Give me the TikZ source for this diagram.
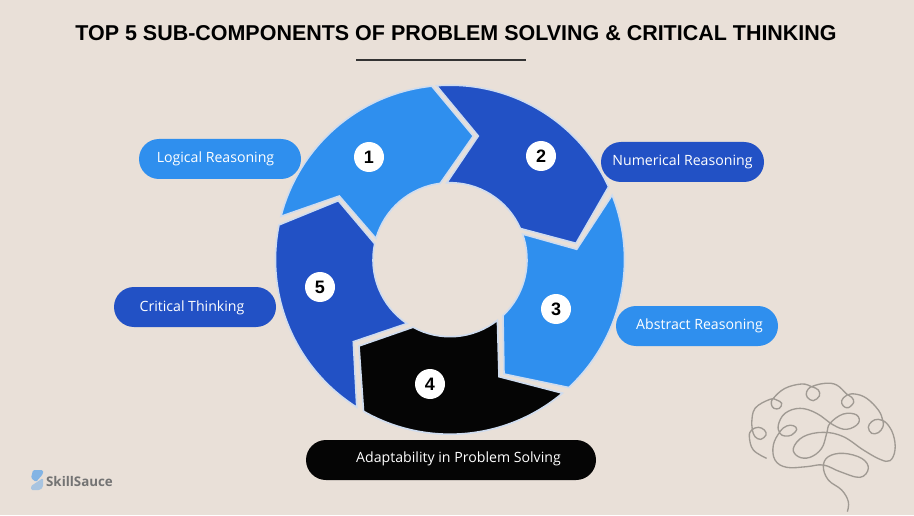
\documentclass[tikz,border=0pt]{standalone}
\usepackage{fontspec}
\setmainfont{Open Sans}
\newfontfamily\titlefont{Liberation Sans}
\usepackage{tikz}

\definecolor{paper}{HTML}{E9E0D8}
\definecolor{skyseg}{HTML}{2F8FEE}
\definecolor{royalseg}{HTML}{2251C5}
\definecolor{blackseg}{HTML}{050505}
\definecolor{segedge}{HTML}{CFDCEF}
\definecolor{brainline}{HTML}{A09A93}

\tikzset{
  seg/.style={draw=segedge, line width=1.2pt, line join=miter},
  numdot/.style={circle, fill=white, minimum size=22.5pt, inner sep=0pt, font=\titlefont\bfseries\fontsize{13.5}{15}\selectfont},
  pill/.style={rounded corners=15pt, minimum height=30pt, inner sep=0pt},
  pilltext/.style={text=white, font=\fontsize{10.6}{12}\selectfont, inner sep=0pt}
}

\begin{document}
\begin{tikzpicture}[x=0.75pt,y=0.75pt]

  \useasboundingbox (0,0) rectangle (914,515);
  \fill[paper] (0,0) rectangle (914,515);

  \coordinate (mid) at (450,255.3);

  % title
  \node[inner sep=0pt, font=\titlefont\bfseries\fontsize{16.1}{18}\selectfont] (heading) at (456,482) {TOP 5 SUB-COMPONENTS OF PROBLEM SOLVING \& CRITICAL THINKING};
  \coordinate (ruleL) at (356,455);
  \coordinate (ruleR) at (526,455);
  \draw[line width=0.8pt, black!80] (ruleL) -- (ruleR);

  % ring
  \fill[seg, fill=skyseg] (mid) ++(165.6:174.5) arc[start angle=165.6, end angle=96, radius=174.5]
    -- (473.3,379) -- ([shift={(97.3:77)}]mid) arc[start angle=97.3, end angle=164, radius=77]
    -- (339.3,319) -- cycle;
  \fill[seg, fill=royalseg] (mid) ++(94.4:174.5) arc[start angle=94.4, end angle=24.7, radius=174.5]
    -- (576,271.7) -- ([shift={(23.9:77)}]mid) arc[start angle=23.9, end angle=92.4, radius=77]
    -- (478.3,379) -- cycle;
  \fill[seg, fill=skyseg] (mid) ++(21.7:174.5) arc[start angle=21.7, end angle=-47.1, radius=174.5]
    -- (504,141) -- ([shift={(-46.5:77)}]mid) arc[start angle=-46.5, end angle=19.4, radius=77]
    -- (576.7,265.7) -- cycle;
  \fill[seg, fill=blackseg] (mid) ++(-49.9:174.5) arc[start angle=-49.9, end angle=-119.7, radius=174.5]
    -- (359,169) -- ([shift={(-118.7:77)}]mid) arc[start angle=-118.7, end angle=-52, radius=77]
    -- (499,138.3) -- cycle;
  \fill[seg, fill=royalseg] (mid) ++(237.7:174.5) arc[start angle=237.7, end angle=168.5, radius=174.5]
    -- (338.3,314.3) -- ([shift={(168:77)}]mid) arc[start angle=168, end angle=236, radius=77]
    -- (353.3,173.3) -- cycle;

  % numbers
  \node[numdot] (one) at (369,358) {1};
  \node[numdot] (two) at (541,359) {2};
  \node[numdot] (three) at (556,206) {3};
  \node[numdot] (four) at (430,131) {4};
  \node[numdot] (five) at (320,228) {5};

  % labels
  \node[pill, fill=skyseg, minimum width=121.5pt] (logical) at (220,356) {};
  \node[pilltext] (logicaltext) at (215.5,356) {Logical Reasoning};
  \node[pill, fill=royalseg, minimum width=122.25pt] (numerical) at (682.5,353) {};
  \node[pilltext] (numericaltext) at (682.5,353) {Numerical Reasoning};
  \node[pill, fill=skyseg, minimum width=121.5pt] (abstract) at (697,189) {};
  \node[pilltext] (abstracttext) at (699.5,189) {Abstract Reasoning};
  \node[pill, fill=royalseg, minimum width=121.5pt] (critical) at (195,208) {};
  \node[pilltext] (criticaltext) at (192,207) {Critical Thinking};
  \node[pill, fill=blackseg, minimum width=217.5pt] (adapt) at (451,55) {};
  \node[pilltext] (adapttext) at (458.5,56) {Adaptability in Problem Solving};

  % logo
  \fill[skyseg!55!paper, rounded corners=1pt] (33,45) -- (43,45) -- (43,41) -- (36,33) -- (31,37) -- cycle;
  \fill[skyseg!35!paper, rounded corners=1pt] (43,37) -- (43,28) -- (40,25) -- (31,25) -- (31,29) -- cycle;
  \node[inner sep=0pt, text=black!55, font=\bfseries\fontsize{10}{12}\selectfont] (brand) at (79.5,34) {SkillSauce};

  % brain
  \begin{scope}[shift={(730,145)},xscale=1/3,yscale=-1/3]
    \draw[brainline, line width=1pt] plot[smooth, tension=0.65] coordinates {
      (110,265) (70,240) (58,200) (65,180) (85,172) (103,180) (108,195) (92,208) (75,200) (67,180)
      (65,160) (75,115) (120,88) (140,90) (155,100) (148,115) (132,115) (124,102) (130,85) (165,55)
      (215,42) (245,50) (265,60) (268,78) (250,92) (232,82) (230,65) (245,50) (285,40) (320,45)
      (350,72) (365,82) (371,97) (355,113) (340,108) (335,92) (350,76) (375,72) (410,85) (445,120)
      (458,150) (459,170) (445,188) (425,190) (415,172) (425,155) (445,148) (470,160) (490,195) (495,240)
      (480,272) (450,268) (400,240) (340,200) (280,187) (220,200) (190,235) (205,260) (240,262) (275,235)
      (290,190) (300,160) (340,132) (380,135) (385,160) (350,178) (310,165) (260,130) (210,115) (165,130)
      (145,165) (150,190) (165,198) (185,195) (200,178) (190,167) (170,168) (150,185) (130,225) (135,270)
      (170,292) (230,290) (280,285) (330,305) (390,322) (415,295) (395,265) (340,250) (295,260) (280,290)
      (295,330) (335,360) (355,395) (352,425)};
  \end{scope}

\end{tikzpicture}
\end{document}
